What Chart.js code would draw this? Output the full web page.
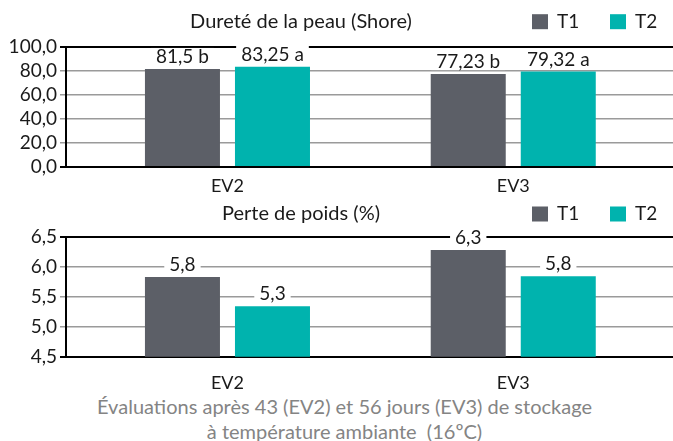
<!DOCTYPE html>
<html><head><meta charset="utf-8">
<script src="https://cdn.jsdelivr.net/npm/chart.js@4"></script>
<style>
html,body{margin:0;padding:0;background:#fff;width:673px;height:441px;overflow:hidden;}
#top{position:absolute;left:0;top:0;width:673px;height:197px;}
#bot{position:absolute;left:0;top:197px;width:673px;height:197px;}
#foot{position:absolute;left:0;top:394px;width:689px;text-align:center;color:#848484;font-family:Lato,sans-serif;font-size:20px;line-height:25px;}
</style></head><body>
<div id="top"><canvas id="c1"></canvas></div>
<div id="bot"><canvas id="c2"></canvas></div>
<div id="foot">Évaluations après 43 (EV2) et 56 jours (EV3) de stockage<br>à température ambiante&nbsp; (16ºC)</div>
<script>
// ---- data ----
const categories = ['EV2', 'EV3'];
const seriesNames = ['T1', 'T2'];
const seriesColors = ['#5c5f67', '#00b3ae'];
const hardnessTitle = 'Dureté de la peau (Shore)';
const hardnessT1 = [81.5, 77.23];
const hardnessT2 = [83.25, 79.32];
const hardnessLabelsT1 = ['81,5 b', '77,23 b'];
const hardnessLabelsT2 = ['83,25 a', '79,32 a'];
const hardnessTicks = [0, 20, 40, 60, 80, 100];
const weightTitle = 'Perte de poids (%)';
const weightT1 = [5.83, 6.28];
const weightT2 = [5.34, 5.84];
const weightLabelsT1 = ['5,8', '6,3'];
const weightLabelsT2 = ['5,3', '5,8'];
const weightTicks = [4.5, 5.0, 5.5, 6.0, 6.5];

const FONT = 'Lato';
const TEXT = '#1a1a1a';

// overlay: top frame line, value labels, title and legend (drawn last)
const overlayPlugin = {
  id: 'overlay',
  afterDraw(chart, args, opts) {
    const ctx = chart.ctx;
    const ys = chart.scales.y;
    const area = chart.chartArea;
    ctx.save();
    // top frame line at axis maximum
    const yTop = ys.getPixelForValue(ys.max);
    ctx.fillStyle = '#000';
    ctx.fillRect(area.left - 6, Math.round(yTop) - 1, area.right - area.left + 6, 2);

    // value labels with white background
    ctx.font = '19px ' + FONT;
    ctx.textAlign = 'center';
    ctx.textBaseline = 'middle';
    chart.data.datasets.forEach((ds, di) => {
      const meta = chart.getDatasetMeta(di);
      meta.data.forEach((bar, i) => {
        const txt = ds.valueLabels[i];
        const w = ctx.measureText(txt).width;
        const cy = bar.y - 12;
        ctx.fillStyle = '#fff';
        ctx.fillRect(bar.x - w / 2 - 5, cy - 9, w + 10, 17);
        ctx.fillStyle = TEXT;
        ctx.fillText(txt, bar.x, cy);
      });
    });

    // title + legend row
    ctx.fillStyle = TEXT;
    ctx.font = '20px ' + FONT;
    ctx.fillText(opts.text, opts.titleX, opts.y);
    ctx.font = '19px ' + FONT;
    ctx.textAlign = 'left';
    chart.data.datasets.forEach((ds, i) => {
      const x = opts.legendX[i];
      ctx.fillStyle = ds.backgroundColor;
      ctx.fillRect(x, opts.y - 7.5, 16, 15);
      ctx.fillStyle = TEXT;
      ctx.fillText(ds.label, x + 25, opts.y);
    });
    ctx.restore();
  }
};

const fmt = v => v.toFixed(1).replace('.', ',');

function makeChart(id, cfg) {
  const yMin = cfg.ticks[0], yMax = cfg.ticks[cfg.ticks.length - 1];
  return new Chart(document.getElementById(id), {
    type: 'bar',
    data: {
      datasets: [
        { label: seriesNames[0], data: cfg.s1.map((v, i) => ({ x: i, y: v })), backgroundColor: seriesColors[0], valueLabels: cfg.l1 },
        { label: seriesNames[1], data: cfg.s2.map((v, i) => ({ x: i, y: v })), backgroundColor: seriesColors[1], valueLabels: cfg.l2 }
      ]
    },
    plugins: [overlayPlugin],
    options: {
      responsive: true,
      maintainAspectRatio: false,
      animation: false,
      events: [],
      categoryPercentage: 0.63,
      barPercentage: 0.8333,
      layout: { padding: { top: cfg.padTop, right: 0, left: 0, bottom: 0 } },
      plugins: {
        legend: { display: false },
        title: { display: false },
        tooltip: { enabled: false },
        overlay: { text: cfg.title, titleX: 301, y: cfg.headY, legendX: [532, 610] }
      },
      scales: {
        x: {
          type: 'linear',
          offset: false,
          min: -0.565,
          max: 1.559,
          afterBuildTicks: s => { s.ticks = categories.map((c, i) => ({ value: i })); },
          afterFit: s => { s.height = cfg.xHeight; },
          grid: { display: false, drawTicks: false, offset: false },
          border: { display: false },
          ticks: {
            callback: v => categories[v],
            padding: cfg.xPad,
            color: TEXT,
            font: { family: FONT, size: 18 },
            maxRotation: 0
          }
        },
        y: {
          min: yMin,
          max: yMax,
          afterBuildTicks: s => { s.ticks = cfg.ticks.map(v => ({ value: v })); },
          afterFit: s => { s.width = 66; },
          border: { display: true, color: '#000', width: 2 },
          grid: {
            color: c => (c.tick && (c.tick.value === yMin || c.tick.value === yMax)) ? '#000' : '#9a9a9a',
            lineWidth: c => (c.tick && (c.tick.value === yMin || c.tick.value === yMax)) ? 2 : 1.5,
            tickLength: 6,
            drawTicks: true
          },
          ticks: {
            callback: v => fmt(v),
            padding: 3,
            autoSkipPadding: 0,
            color: TEXT,
            font: { family: FONT, size: 19, lineHeight: 1 }
          }
        }
      }
    }
  });
}

makeChart('c1', { s1: hardnessT1, s2: hardnessT2, l1: hardnessLabelsT1, l2: hardnessLabelsT2, ticks: hardnessTicks, title: hardnessTitle, padTop: 46.7, headY: 21.7, xHeight: 30, xPad: 8 });
makeChart('c2', { s1: weightT1, s2: weightT2, l1: weightLabelsT1, l2: weightLabelsT2, ticks: weightTicks, title: weightTitle, padTop: 39.7, headY: 17, xHeight: 37.3, xPad: 15.5 });
</script>
</body></html>
